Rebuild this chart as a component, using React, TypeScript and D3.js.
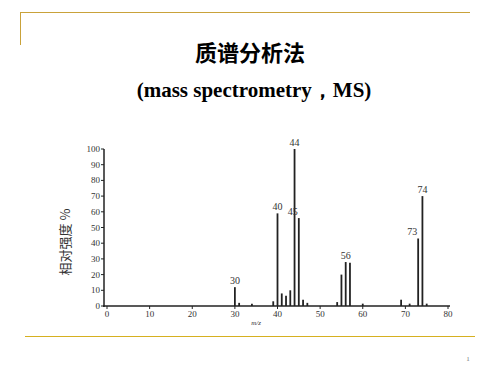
import { useEffect, useRef } from 'react';
import * as d3 from 'd3';

// peaks (m/z, relative intensity %)
const mzValues = [30, 31, 34, 39, 40, 41, 42, 43, 44, 45, 46, 47, 54, 55, 56, 57, 60, 69, 71, 73, 74, 75];
const intensities = [12, 2, 1.5, 3, 59, 8, 6.5, 10, 100, 56, 4, 2, 2.5, 20, 28, 27.5, 1.5, 4, 1.5, 43, 70, 1.5];
const labelledPeaks = [30, 40, 44, 45, 56, 73, 74];

const xTicks = [0, 10, 20, 30, 40, 50, 60, 70, 80];
const yTicks = [0, 10, 20, 30, 40, 50, 60, 70, 80, 90, 100];

const title = '质谱分析法';
const subtitle = '(mass spectrometry，MS)';
const yTitle = '相对强度 %';
const xTitle = 'm/z';

const W = 500;
const H = 375;

const App = () => {
  const ref = useRef<SVGSVGElement | null>(null);

  useEffect(() => {
    const svg = d3.select(ref.current);
    svg.selectAll('*').remove();

    const x = d3.scaleLinear().domain([0, 80]).range([107, 448]);
    const y = d3.scaleLinear().domain([0, 100]).range([306, 149]);

    // slide decoration
    const gold = '#c9a23a';
    svg.append('line').attr('x1', 20).attr('x2', 470).attr('y1', 12.5).attr('y2', 12.5)
      .attr('stroke', gold).attr('stroke-width', 1);
    svg.append('line').attr('x1', 20.5).attr('x2', 20.5).attr('y1', 12).attr('y2', 45)
      .attr('stroke', gold).attr('stroke-width', 1);
    svg.append('line').attr('x1', 25).attr('x2', 475).attr('y1', 336.5).attr('y2', 336.5)
      .attr('stroke', '#d6b020').attr('stroke-width', 1);
    svg.append('text').attr('x', 468).attr('y', 361).attr('text-anchor', 'middle')
      .attr('font-family', 'Liberation Serif').attr('font-size', 7).attr('fill', '#777').text('1');

    // titles
    svg.append('text').attr('x', 250).attr('y', 61).attr('text-anchor', 'middle')
      .attr('font-family', '"Noto Sans CJK SC", sans-serif').attr('font-weight', 'bold')
      .attr('font-size', 22).attr('fill', '#000').text(title);
    svg.append('text').attr('x', 254).attr('y', 97).attr('text-anchor', 'middle')
      .attr('font-family', '"Liberation Serif", serif').attr('font-weight', 'bold')
      .attr('font-size', 21).attr('fill', '#000').text(subtitle);

    const ink = '#222';
    const g = svg.append('g');

    // axes
    g.append('line').attr('x1', 104).attr('x2', 104).attr('y1', y(100)).attr('y2', y(0) + 1)
      .attr('stroke', ink).attr('stroke-width', 1.5);
    g.append('line').attr('x1', 103).attr('x2', x(80) + 2).attr('y1', y(0)).attr('y2', y(0))
      .attr('stroke', ink).attr('stroke-width', 1.5);

    g.selectAll('.ytick').data(yTicks).join('line')
      .attr('x1', 101).attr('x2', 104).attr('y1', d => y(d)).attr('y2', d => y(d))
      .attr('stroke', ink).attr('stroke-width', 1);
    g.selectAll('.ylab').data(yTicks).join('text')
      .attr('x', 100).attr('y', d => y(d) + 3).attr('text-anchor', 'end')
      .attr('font-family', '"Liberation Serif", serif').attr('font-size', 9).attr('fill', '#333')
      .text(d => d);

    g.selectAll('.xtick').data(xTicks).join('line')
      .attr('x1', d => x(d)).attr('x2', d => x(d)).attr('y1', y(0)).attr('y2', y(0) + 3)
      .attr('stroke', ink).attr('stroke-width', 1);
    g.selectAll('.xlab').data(xTicks).join('text')
      .attr('x', d => x(d)).attr('y', y(0) + 11).attr('text-anchor', 'middle')
      .attr('font-family', '"Liberation Serif", serif').attr('font-size', 9).attr('fill', '#333')
      .text(d => d);

    g.append('text').attr('x', 256).attr('y', 325).attr('text-anchor', 'middle')
      .attr('font-family', '"Liberation Serif", serif').attr('font-style', 'italic')
      .attr('font-size', 7).attr('fill', '#333').text(xTitle);

    g.append('text')
      .attr('transform', `translate(70,${242}) rotate(-90)`)
      .attr('text-anchor', 'middle')
      .attr('font-family', '"Noto Sans CJK SC", sans-serif').attr('font-size', 13)
      .attr('fill', '#333').text(yTitle);

    // peaks
    const peaks = mzValues.map((m, i) => ({ m, v: intensities[i] }));
    g.selectAll('.peak').data(peaks).join('line')
      .attr('x1', d => x(d.m)).attr('x2', d => x(d.m))
      .attr('y1', y(0)).attr('y2', d => y(d.v))
      .attr('stroke', ink).attr('stroke-width', 1.8);

    // peak labels: shift left when a taller labelled neighbour sits next to it
    const shifted = (d: { m: number; v: number }) =>
      peaks.some(p => Math.abs(p.m - d.m) === 1 && p.v > d.v && labelledPeaks.includes(p.m));
    const labelled = peaks.filter(p => labelledPeaks.includes(p.m));
    g.selectAll('.plab').data(labelled).join('text')
      .attr('x', d => (shifted(d) ? x(d.m) - 1 : x(d.m)))
      .attr('text-anchor', d => (shifted(d) ? 'end' : 'middle'))
      .attr('y', d => y(d.v) - 3)
      .attr('font-family', '"Liberation Serif", serif').attr('font-size', 10).attr('fill', '#333')
      .text(d => d.m);
  }, []);

  return (
    <svg ref={ref} width={W} height={H}
      style={{ position: 'absolute', left: 0, top: 0, background: '#fff' }} />
  );
};

export default App;
